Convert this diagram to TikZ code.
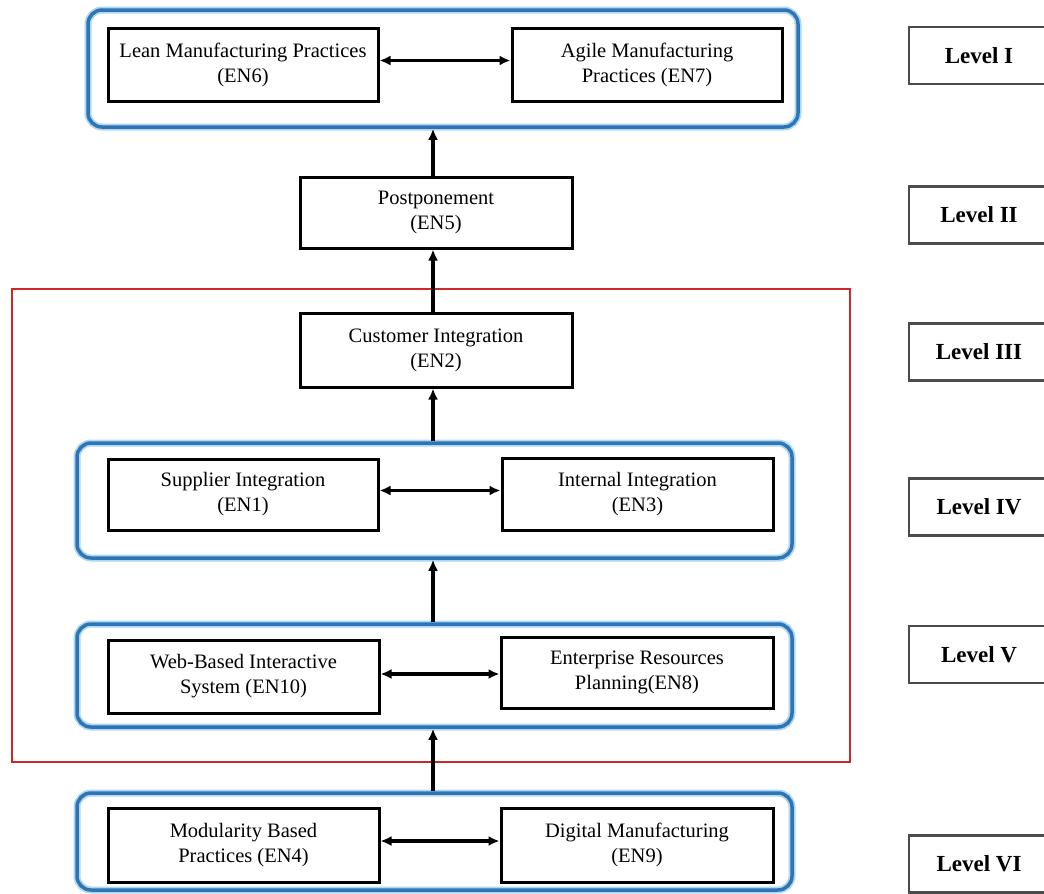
\documentclass[tikz,border=0pt]{standalone}
\usepackage{fontspec}
\setmainfont{Liberation Serif}
\usetikzlibrary{arrows.meta}

\definecolor{grpblue}{RGB}{46,117,182}
\definecolor{grphalo}{RGB}{175,215,240}
\definecolor{framered}{RGB}{205,40,40}
\definecolor{lvlgray}{RGB}{75,75,75}

\tikzset{
  enbox/.style={draw=black, line width=3pt, fill=white, rectangle,
    align=center, inner sep=0pt,
    font=\fontsize{20.5}{25}\selectfont},
  grpbox/.style={rectangle, rounded corners=14pt, line width=3.5pt, draw=grpblue,
    preaction={draw=grphalo, line width=7pt}, inner sep=0pt},
  lvlbox/.style={draw=lvlgray, line width=2.5pt, fill=white, rectangle,
    minimum width=140pt, minimum height=57pt, inner sep=0pt,
    font=\fontsize{23}{27}\selectfont\bfseries},
  uparr/.style={line width=3.5pt, -{Latex[length=11pt,width=10pt]}},
  biarr/.style={line width=3.5pt, {Latex[length=11pt,width=10pt]}-{Latex[length=11pt,width=10pt]}},
}

\begin{document}
\begin{tikzpicture}[x=1pt, y=-1pt]
  \path[use as bounding box, fill=white] (0,0) rectangle (1044,894);
  \coordinate (spine) at (433,0);

  % red frame around levels III to V
  \draw[framered, line width=2.5pt] (12,289) rectangle (850,762);

  % group outlines
  \node[grpbox, minimum width=710pt, minimum height=117pt] (G1) at (443,68.5) {};
  \node[grpbox, minimum width=715pt, minimum height=115pt] (G4) at (434.5,500.5) {};
  \node[grpbox, minimum width=715pt, minimum height=103pt] (G5) at (434.5,675.5) {};
  \node[grpbox, minimum width=715pt, minimum height=97pt] (G6) at (434.5,841.5) {};

  % enablers
  \node[enbox, minimum width=270pt, minimum height=73pt] (EN6) at (243,64.5)
    {Lean Manufacturing Practices\\(EN6)};
  \node[enbox, minimum width=270pt, minimum height=73pt] (EN7) at (647,64.5)
    {Agile Manufacturing\\Practices (EN7)};
  \node[enbox, minimum width=272pt, minimum height=71pt] (EN5) at (436,212.5)
    {Postponement\\(EN5)};
  \node[enbox, minimum width=272pt, minimum height=74pt] (EN2) at (436,350)
    {Customer Integration\\(EN2)};
  \node[enbox, minimum width=270pt, minimum height=71pt] (EN1) at (243,494.5)
    {Supplier Integration\\(EN1)};
  \node[enbox, minimum width=271pt, minimum height=72pt] (EN3) at (637.5,494)
    {Internal Integration\\(EN3)};
  \node[enbox, minimum width=271pt, minimum height=73pt] (EN10) at (243.5,676.5)
    {Web-Based Interactive\\System (EN10)};
  \node[enbox, minimum width=272pt, minimum height=71pt] (EN8) at (637,672.5)
    {Enterprise Resources\\Planning(EN8)};
  \node[enbox, minimum width=271pt, minimum height=74pt] (EN4) at (243.5,845)
    {Modularity Based\\Practices (EN4)};
  \node[enbox, minimum width=272pt, minimum height=74pt] (EN9) at (637,845)
    {Digital Manufacturing\\(EN9)};

  % links inside each level
  \draw[biarr] ([yshift=4pt]EN6.east) -- ([yshift=4pt]EN6.east -| EN7.west);
  \draw[biarr] ([yshift=4pt]EN1.east) -- ([yshift=4pt]EN1.east -| EN3.west);
  \draw[biarr] ([yshift=2.5pt]EN10.east) -- ([yshift=2.5pt]EN10.east -| EN8.west);
  \draw[biarr] ([yshift=4pt]EN4.east) -- ([yshift=4pt]EN4.east -| EN9.west);

  % links between levels
  \draw[uparr] (EN5.north -| spine) -- (G1.south -| spine);
  \draw[uparr] (EN2.north -| spine) -- (EN5.south -| spine);
  \draw[uparr] (G4.north -| spine) -- (EN2.south -| spine);
  \draw[uparr] (G5.north -| spine) -- (G4.south -| spine);
  \draw[uparr] (G6.north -| spine) -- (G5.south -| spine);

  % level labels
  \begin{scope}
    \clip (0,0) rectangle (1044,894);
    \node[lvlbox] (L1) at (979,55.5) {Level I};
    \node[lvlbox] (L2) at (979,215) {Level II};
    \node[lvlbox] (L3) at (979,352) {Level III};
    \node[lvlbox] (L4) at (979,507) {Level IV};
    \node[lvlbox] (L5) at (979,654.5) {Level V};
    \node[lvlbox] (L6) at (979,864) {Level VI};
  \end{scope}
\end{tikzpicture}
\end{document}
